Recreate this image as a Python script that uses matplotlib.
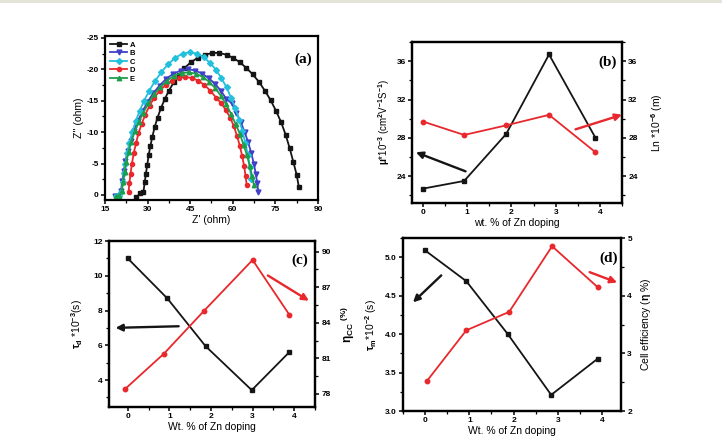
import matplotlib.pyplot as plt
from matplotlib.ticker import MultipleLocator, FormatStrFormatter

plt.rcParams['font.family'] = ['Liberation Sans', 'DejaVu Sans']
plt.rcParams['font.weight'] = 'bold'
plt.rcParams['axes.unicode_minus'] = False
plt.rcParams['mathtext.fontset'] = 'custom'
plt.rcParams['mathtext.rm'] = 'Liberation Sans:bold'
plt.rcParams['mathtext.it'] = 'Liberation Sans:bold'
plt.rcParams['mathtext.bf'] = 'Liberation Sans:bold'

# (a) Nyquist plots
A_x = [26.0, 27.5, 28.5, 29.0, 29.4, 29.9, 30.4, 31.0, 31.7, 32.5, 33.5, 34.7, 36.0, 37.5, 39.2,
       41.0, 43.0, 45.2, 47.6, 50.2, 52.8, 55.3, 57.8, 60.2, 62.5, 64.8, 67.0, 69.2, 71.3, 73.3,
       75.2, 77.0, 78.6, 80.0, 81.3, 82.5, 83.3]
A_y = [0.4, -0.3, -0.4, -2.0, -3.4, -4.8, -6.4, -7.8, -9.3, -10.8, -12.3, -13.8, -15.2, -16.6, -17.9,
       -19.1, -20.2, -21.1, -21.8, -22.3, -22.6, -22.6, -22.3, -21.8, -21.1, -20.2, -19.2, -18.0, -16.6, -15.1,
       -13.4, -11.6, -9.6, -7.5, -5.3, -3.2, -1.2]
B_x = [18.5, 19.6, 20.6, 21.1, 21.6, 22.2, 23.0, 24.0, 25.2, 26.6, 28.2, 30.0, 32.0, 34.2, 36.6,
       39.1, 41.7, 44.3, 46.8, 49.2, 51.5, 53.7, 55.8, 57.7, 59.6, 61.3, 62.8, 64.2, 65.4, 66.5,
       67.4, 68.1, 68.6, 69.0]
B_y = [0.2, 0.2, -0.6, -2.2, -3.8, -5.4, -7.0, -8.6, -10.2, -11.8, -13.3, -14.8, -16.2, -17.4, -18.5,
       -19.3, -19.8, -20.0, -19.8, -19.3, -18.6, -17.7, -16.6, -15.3, -14.6, -13.1, -11.6, -10.0, -8.4, -6.7,
       -5.0, -3.4, -1.9, -0.5]
C_x = [18.8, 19.8, 20.8, 21.3, 21.7, 22.2, 22.8, 23.6, 24.6, 25.8, 27.2, 28.8, 30.6, 32.6, 34.8,
       37.2, 39.7, 42.3, 44.9, 47.4, 49.8, 52.0, 54.1, 56.0, 57.8, 59.4, 60.9, 62.2, 63.4, 64.4,
       65.3, 66.0, 66.5]
C_y = [0.2, 0.2, -0.5, -2.0, -3.5, -5.0, -6.6, -8.3, -10.0, -11.7, -13.4, -15.0, -16.6, -18.1, -19.5,
       -20.8, -21.8, -22.5, -22.7, -22.5, -21.9, -21.0, -19.9, -18.6, -17.1, -15.5, -13.8, -12.0, -10.2, -8.3,
       -6.4, -4.5, -2.5]
D_x = [23.3, 23.6, 24.0, 24.5, 25.1, 25.9, 26.8, 27.9, 29.2, 30.7, 32.4, 34.3, 36.4, 38.6, 40.9,
       43.2, 45.5, 47.8, 50.0, 52.1, 54.1, 55.9, 57.6, 59.1, 60.4, 61.5, 62.5, 63.3, 64.0, 64.5, 64.9]
D_y = [-0.5, -1.9, -3.4, -5.0, -6.6, -8.2, -9.8, -11.3, -12.8, -14.2, -15.5, -16.6, -17.5, -18.2, -18.6,
       -18.8, -18.6, -18.2, -17.5, -16.6, -15.5, -14.6, -13.5, -12.3, -10.9, -9.4, -7.8, -6.2, -4.6, -3.0, -1.6]
E_x = [19.0, 20.0, 20.9, 21.4, 21.9, 22.5, 23.3, 24.3, 25.5, 26.9, 28.5, 30.3, 32.3, 34.5, 36.9,
       39.4, 42.0, 44.5, 47.0, 49.4, 51.7, 53.8, 55.8, 57.7, 59.4, 61.0, 62.5, 63.8, 65.0, 66.0, 66.8, 67.4]
E_y = [0.2, 0.1, -0.6, -2.1, -3.7, -5.3, -6.9, -8.5, -10.1, -11.6, -13.1, -14.6, -16.0, -17.2, -18.2,
       -19.0, -19.4, -19.5, -19.3, -18.8, -18.0, -17.0, -15.8, -14.4, -12.9, -11.3, -9.7, -8.0, -6.3, -4.6, -3.0, -1.6]

# (b) mobility / diffusion length
b_x = [0, 0.93, 1.88, 2.85, 3.9]
b_mu = [22.7, 23.5, 28.4, 36.7, 28.0]
b_ln = [29.7, 28.3, 29.3, 30.4, 26.5]

# (c) tau_d / eta_cc
c_x_black = [0, 0.95, 1.87, 2.98, 3.88]
c_tau = [11.0, 8.7, 5.95, 3.42, 5.6]
c_x_red = [-0.07, 0.87, 1.83, 3.0, 3.88]
c_eta = [78.4, 81.4, 85.0, 89.3, 84.7]

# (d) tau_n / cell efficiency
d_x_black = [0, 0.93, 1.87, 2.85, 3.9]
d_tau = [5.09, 4.69, 4.0, 3.21, 3.68]
d_x_red = [0.04, 0.93, 1.9, 2.87, 3.9]
d_eff = [2.52, 3.40, 3.72, 4.86, 4.15]

RED = '#e8282c'
BLK = '#151515'
TICK = 6
LAB = 7.5
LW = 1.3

fig = plt.figure(figsize=(7.22, 4.41), dpi=100)
fig.add_artist(plt.Rectangle((0, 1 - 3 / 441), 1, 3 / 441, transform=fig.transFigure,
                             color='#e4e4d8', lw=0))


def style(ax, right=False):
    for s in ax.spines.values():
        s.set_linewidth(1.6)
    ax.tick_params(which='major', direction='out', length=3, width=1.1, labelsize=TICK, pad=1.5)
    ax.tick_params(which='minor', direction='out', length=2, width=0.9)
    if not right:
        ax.tick_params(which='both', top=False, right=False)


def arrow(ax, tail, head, color):
    ax.annotate('', xy=head, xytext=tail, annotation_clip=False,
                arrowprops=dict(arrowstyle='-|>', color=color, lw=1.7, mutation_scale=10))


# ---- (a)
ax = fig.add_axes([0.1454, 0.5465, 0.295, 0.372])
ax.plot(A_x, A_y, '-s', color=BLK, ms=2.8, lw=LW, label='A')
ax.plot(B_x, B_y, '-v', color='#4040c8', ms=3.5, lw=LW, label='B')
ax.plot(C_x, C_y, '-D', color='#22c0dc', ms=3, lw=LW, label='C')
ax.plot(D_x, D_y, '-o', color=RED, ms=3, lw=LW, label='D')
ax.plot(E_x, E_y, '-^', color='#1e9e4a', ms=3.2, lw=LW, label='E')
ax.set_xlim(15, 90)
ax.set_ylim(0.8, -25.3)
ax.xaxis.set_major_locator(MultipleLocator(15))
ax.xaxis.set_minor_locator(MultipleLocator(7.5))
ax.yaxis.set_major_locator(MultipleLocator(5))
ax.yaxis.set_minor_locator(MultipleLocator(2.5))
style(ax)
ax.set_xlabel("Z' (ohm)", fontsize=LAB, labelpad=1)
ax.set_ylabel("Z'' (ohm)", fontsize=LAB, labelpad=2)
ax.legend(loc='upper left', fontsize=5.5, frameon=False, handlelength=2.2,
          handletextpad=0.3, labelspacing=0.15, borderaxespad=0.3)
ax.text(0.97, 0.86, '(a)', transform=ax.transAxes, ha='right', va='center',
        fontsize=11, family='Liberation Serif', fontweight='bold')

# ---- (b)
ax = fig.add_axes([0.5706, 0.5397, 0.2909, 0.365])
ax.plot(b_x, b_mu, '-s', color=BLK, ms=3.2, lw=LW)
ax2 = ax.twinx()
ax2.plot(b_x, b_ln, '-o', color=RED, ms=3.2, lw=LW)
for a in (ax, ax2):
    a.set_ylim(21.2, 38)
    a.yaxis.set_major_locator(MultipleLocator(4))
    a.yaxis.set_minor_locator(MultipleLocator(2))
ax.set_xlim(-0.25, 4.5)
ax.xaxis.set_major_locator(MultipleLocator(1))
ax.xaxis.set_minor_locator(MultipleLocator(0.5))
style(ax)
style(ax2, right=True)
ax.set_xlabel('wt. % of Zn doping', fontsize=LAB, labelpad=1)
ax.set_ylabel(r'$\mu$*10$^{-3}$ (cm$^{2}$V$^{-1}$S$^{-1}$)', fontsize=LAB - 0.5, labelpad=3)
ax2.set_ylabel(r'Ln *10$^{-6}$ (m)', fontsize=LAB, rotation=90, labelpad=8)
arrow(ax, (1.02, 24.4), (-0.22, 26.6), BLK)
arrow(ax, (3.39, 28.8), (4.56, 30.5), RED)
ax.text(0.976, 0.876, '(b)', transform=ax.transAxes, ha='right', va='center',
        fontsize=11, family='Liberation Serif', fontweight='bold')

# ---- (c)
ax = fig.add_axes([0.151, 0.0771, 0.2853, 0.3764])
ax.plot(c_x_black, c_tau, '-s', color=BLK, ms=2.2, lw=LW)
ax.set_ylim(2.45, 12)
ax.yaxis.set_major_locator(MultipleLocator(2))
ax.yaxis.set_minor_locator(MultipleLocator(1))
ax2 = ax.twinx()
ax2.plot(c_x_red, c_eta, '-o', color=RED, ms=3.2, lw=LW)
ax2.set_ylim(76.9, 90.9)
ax2.yaxis.set_major_locator(MultipleLocator(3))
ax2.yaxis.set_minor_locator(MultipleLocator(1.5))
ax.set_xlim(-0.45, 4.5)
ax.xaxis.set_major_locator(MultipleLocator(1))
ax.xaxis.set_minor_locator(MultipleLocator(0.5))
style(ax)
style(ax2, right=True)
ax.set_xlabel('Wt. % of Zn doping', fontsize=LAB, labelpad=1)
ax.set_ylabel(r'$\tau_d$ *10$^{-3}$(s)', fontsize=LAB, labelpad=6)
ax2.set_ylabel(r'$\eta_{CC}$ $^{(\%)}$', fontsize=LAB + 1, rotation=90, labelpad=6)
arrow(ax, (1.29, 7.1), (-0.36, 7.0), BLK)
arrow(ax, (3.31, 10.1), (4.41, 8.48), RED)
ax.text(0.966, 0.886, '(c)', transform=ax.transAxes, ha='right', va='center',
        fontsize=11, family='Liberation Serif', fontweight='bold')

# ---- (d)
ax = fig.add_axes([0.5582, 0.068, 0.302, 0.392])
ax.plot(d_x_black, d_tau, '-s', color=BLK, ms=3.2, lw=LW)
ax.set_ylim(3.0, 5.25)
ax.yaxis.set_major_locator(MultipleLocator(0.5))
ax.yaxis.set_minor_locator(MultipleLocator(0.25))
ax.yaxis.set_major_formatter(FormatStrFormatter('%.1f'))
ax2 = ax.twinx()
ax2.plot(d_x_red, d_eff, '-o', color=RED, ms=3.2, lw=LW)
ax2.set_ylim(2, 5)
ax2.yaxis.set_major_locator(MultipleLocator(1))
ax2.yaxis.set_minor_locator(MultipleLocator(0.5))
ax.set_xlim(-0.5, 4.43)
ax.xaxis.set_major_locator(MultipleLocator(1))
ax.xaxis.set_minor_locator(MultipleLocator(0.5))
style(ax)
style(ax2, right=True)
ax.set_xlabel('Wt. % of Zn doping', fontsize=LAB, labelpad=1)
ax.set_ylabel(r'$\tau_m$*10$^{-2}$ (s)', fontsize=LAB, labelpad=4)
ax2.set_ylabel(r'Cell efficiency ($\eta$ %)', fontsize=LAB, rotation=90, labelpad=5)
arrow(ax, (0.41, 4.79), (-0.32, 4.39), BLK)
arrow(ax, (3.66, 4.82), (4.40, 4.66), RED)
ax.text(0.986, 0.884, '(d)', transform=ax.transAxes, ha='right', va='center',
        fontsize=11, family='Liberation Serif', fontweight='bold')

fig.savefig('out.png', dpi=100)
